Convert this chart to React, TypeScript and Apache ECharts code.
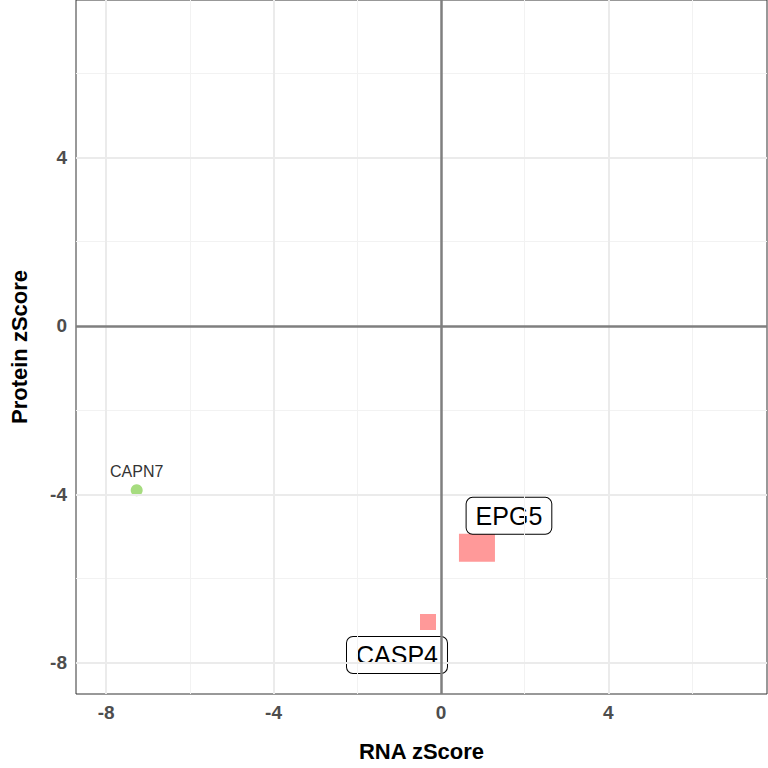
import { useRef, useEffect } from 'react'
import * as echarts from 'echarts'

const tickValues = [-8, -4, 0, 4]
const majorGrid = [-8, -4, 4]
const minorGrid = [-6, -2, 2, 6]

const greenPoints = [{ name: 'CAPN7', x: -7.27, y: -3.9 }]
const redPoints = [
  { name: 'EPG5', x: 0.86, y: -5.27, size: [36, 28], offset: [32, -32] },
  { name: 'CASP4', x: -0.31, y: -7.03, size: [16, 16], offset: [-31, 33] },
]

function gridLines(vals: number[], axis: 'xAxis' | 'yAxis', color: string, width: number) {
  return vals.map((v) => ({ [axis]: v, lineStyle: { color, width, type: 'solid' } }))
}

export default function App() {
  const ref = useRef<HTMLDivElement>(null)

  useEffect(() => {
    if (!ref.current) return
    const chart = echarts.init(ref.current, undefined, { renderer: 'svg' })
    const font = 'Liberation Sans, Arial, sans-serif'
    const axisLabel = { color: '#4d4d4d', fontSize: 19, fontWeight: 'bold', fontFamily: font }
    const nameStyle = { color: '#000', fontSize: 22, fontWeight: 'bold', fontFamily: font }
    chart.setOption({
      animation: false,
      backgroundColor: '#fff',
      grid: { left: 72, right: 1, top: 0, bottom: 74, show: true, borderColor: '#333', borderWidth: 1 },
      xAxis: {
        type: 'value', min: -8.72, max: 7.79,
        name: 'RNA zScore', nameLocation: 'middle', nameGap: 46, nameTextStyle: nameStyle,
        axisLine: { show: false },
        axisTick: { show: true, customValues: tickValues, length: 5, lineStyle: { color: '#333' } },
        axisLabel: { ...axisLabel, customValues: tickValues, margin: 9 },
        splitLine: { show: false },
      },
      yAxis: {
        type: 'value', min: -8.74, max: 7.74,
        name: 'Protein zScore', nameLocation: 'middle', nameGap: 46, nameTextStyle: nameStyle,
        axisLine: { show: false },
        axisTick: { show: true, customValues: tickValues, length: 5, lineStyle: { color: '#333' } },
        axisLabel: { ...axisLabel, customValues: tickValues, margin: 9 },
        splitLine: { show: false },
      },
      series: [
        {
          type: 'scatter', data: [], silent: true,
          markLine: {
            symbol: 'none', silent: true, label: { show: false },
            emphasis: { disabled: true },
            data: [
              ...gridLines(minorGrid, 'xAxis', '#f2f2f2', 1),
              ...gridLines(minorGrid, 'yAxis', '#f2f2f2', 1),
              ...gridLines(majorGrid, 'xAxis', '#ebebeb', 2),
              ...gridLines(majorGrid, 'yAxis', '#ebebeb', 2),
              { xAxis: 0, lineStyle: { color: '#7f7f7f', width: 2.5, type: 'solid', opacity: 1 } },
              { yAxis: 0, lineStyle: { color: '#7f7f7f', width: 2.5, type: 'solid', opacity: 1 } },
            ],
          },
        },
        {
          type: 'scatter', symbol: 'circle', symbolSize: 12,
          itemStyle: { color: '#a6dc7f', opacity: 1 },
          data: greenPoints.map((p) => ({ name: p.name, value: [p.x, p.y] })),
          label: {
            show: true, position: 'top', distance: 5, formatter: '{b}',
            color: '#333', fontSize: 16, fontFamily: font,
          },
        },
        {
          type: 'scatter', symbol: 'rect',
          itemStyle: { color: '#ff9999', opacity: 1 },
          data: redPoints.map((p) => ({
            name: p.name, value: [p.x, p.y], symbolSize: p.size,
            label: {
              show: true, position: 'inside', offset: p.offset, formatter: '{b}',
              color: '#000', fontSize: 25, fontFamily: font,
              backgroundColor: '#fff', borderColor: '#000', borderWidth: 1, borderRadius: 6,
              padding: [6, 9, 5, 9],
            },
          })),
        },
      ],
    })
    return () => chart.dispose()
  }, [])

  return <div ref={ref} style={{ position: 'fixed', left: 0, top: 0, width: 768, height: 768 }} />
}
